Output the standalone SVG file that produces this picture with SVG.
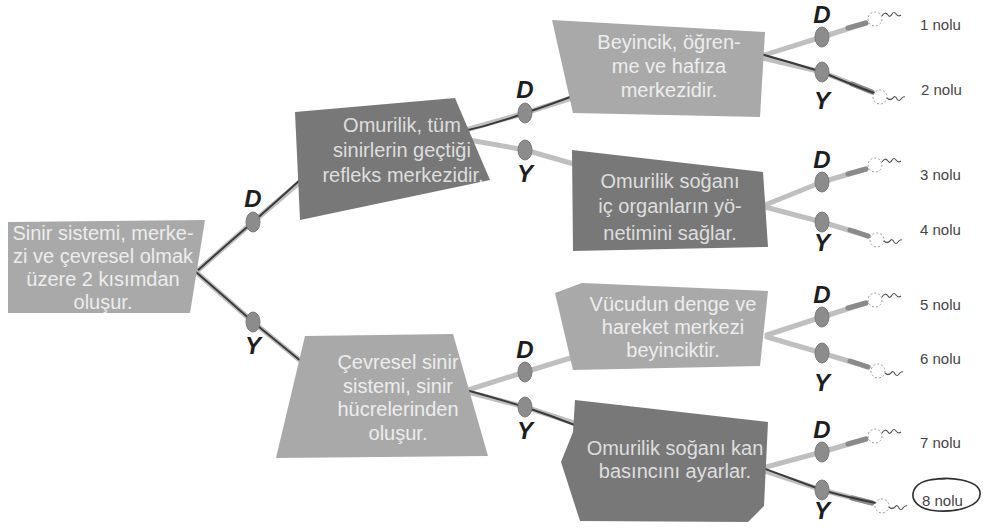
<svg xmlns="http://www.w3.org/2000/svg" width="983" height="528" viewBox="0 0 983 528">
<style>
.light{fill:#a9a9a9}
.dark{fill:#787878}
.t{font-family:"Liberation Sans",Arial,sans-serif;font-size:20px;text-anchor:middle}
.tl{fill:#ededed}
.td{fill:#dedede}
.band{fill:none;stroke:#bfbfbf;stroke-width:5;stroke-linecap:round;stroke-linejoin:round}
.tip{fill:none;stroke:#8a8a8a;stroke-width:5;stroke-linecap:round}
.pen{fill:none;stroke:#3a3a3a;stroke-width:2;stroke-linecap:round}
.dot{fill:#8c8c8c;stroke:#7a7a7a;stroke-width:1}
.dy{font-family:"Liberation Sans",Arial,sans-serif;font-size:24px;font-weight:bold;font-style:italic;fill:#1e1e1e;text-anchor:middle}
.term{fill:#fff;stroke:#9a9a9a;stroke-width:1;stroke-dasharray:2 2}
.sq{fill:none;stroke:#555;stroke-width:1.2}
.out{font-family:"Liberation Sans",Arial,sans-serif;font-size:15px;fill:#444}
</style>
<rect width="983" height="528" fill="#ffffff"/>

<g id="connectors">
  <!-- root -->
  <path class="band" d="M196,272 L253,222 L300,182"/>
  <path class="pen" d="M196,272 Q225,246 253,222 Q278,200 300,180"/>
  <path class="band" d="M196,272 L253,322 L302,362"/>
  <path class="pen" d="M196,272 Q225,297 253,322 Q280,344 302,362"/>
  <!-- node 2 -->
  <path class="band" d="M455,133 L525,113 L578,96"/>
  <path class="pen" d="M455,133 Q490,126 525,113 Q555,103 578,94"/>
  <path class="band" d="M458,138 L525,150 L574,164"/>
  <!-- node 7 -->
  <path class="band" d="M468,390 L525,372 L577,356"/>
  <path class="band" d="M468,392 L525,407 L580,425"/>
  <path class="pen" d="M466,390 Q495,398 525,407 Q552,416 580,427"/>
  <!-- node 3 -->
  <path class="band" d="M758,57 L822,37 L866,23"/>
  <path class="tip" d="M848,28 L866,23"/>
  <path class="band" d="M758,57 L822,72 L872,92"/>
  <path class="tip" d="M852,84 L872,92"/>
  <path class="pen" d="M757,53 Q790,62 822,72 Q850,84 874,93"/>
  <!-- node 4 -->
  <path class="band" d="M765,205 L822,182 L866,169"/>
  <path class="tip" d="M848,174 L866,169"/>
  <path class="band" d="M765,207 L822,222 L868,236"/>
  <path class="tip" d="M850,230 L868,236"/>
  <!-- node 5 -->
  <path class="band" d="M767,335 L822,317 L866,303"/>
  <path class="tip" d="M848,308 L866,303"/>
  <path class="band" d="M767,337 L822,353 L868,367"/>
  <path class="tip" d="M850,361 L868,367"/>
  <!-- node 6 -->
  <path class="band" d="M762,468 L822,452 L866,439"/>
  <path class="tip" d="M848,444 L866,439"/>
  <path class="band" d="M762,470 L822,490 L872,503"/>
  <path class="tip" d="M852,498 L872,503"/>
  <path class="pen" d="M752,464 Q790,478 822,490 Q850,498 876,503"/>

  <!-- dots -->
  <ellipse class="dot" cx="253" cy="222" rx="7" ry="10"/>
  <ellipse class="dot" cx="253" cy="322" rx="7" ry="10"/>
  <ellipse class="dot" cx="525" cy="113" rx="7" ry="10"/>
  <ellipse class="dot" cx="525" cy="150" rx="7" ry="10"/>
  <ellipse class="dot" cx="525" cy="372" rx="7" ry="10"/>
  <ellipse class="dot" cx="525" cy="407" rx="7" ry="10"/>
  <ellipse class="dot" cx="822" cy="37" rx="7" ry="10"/>
  <ellipse class="dot" cx="822" cy="72" rx="7" ry="10"/>
  <ellipse class="dot" cx="822" cy="182" rx="7" ry="10"/>
  <ellipse class="dot" cx="822" cy="222" rx="7" ry="10"/>
  <ellipse class="dot" cx="822" cy="317" rx="7" ry="10"/>
  <ellipse class="dot" cx="822" cy="353" rx="7" ry="10"/>
  <ellipse class="dot" cx="822" cy="452" rx="7" ry="10"/>
  <ellipse class="dot" cx="822" cy="490" rx="7" ry="10"/>

  <!-- D / Y labels -->
  <text class="dy" x="253" y="207">D</text>
  <text class="dy" x="253" y="354">Y</text>
  <text class="dy" x="525" y="98">D</text>
  <text class="dy" x="525" y="182">Y</text>
  <text class="dy" x="525" y="358">D</text>
  <text class="dy" x="525" y="439">Y</text>
  <text class="dy" x="822" y="23">D</text>
  <text class="dy" x="822" y="109">Y</text>
  <text class="dy" x="822" y="168">D</text>
  <text class="dy" x="822" y="251">Y</text>
  <text class="dy" x="822" y="303">D</text>
  <text class="dy" x="822" y="391">Y</text>
  <text class="dy" x="822" y="438">D</text>
  <text class="dy" x="822" y="519">Y</text>

  <!-- terminals -->
  <circle class="term" cx="875" cy="19" r="7"/>
  <path class="sq" d="M882,16 q3,-5 6,-1 q2,3 4,-1 q2,-3 4,0 q2,3 5,1"/>
  <circle class="term" cx="880" cy="97" r="7"/>
  <path class="sq" d="M887,98 q3,3 6,0 q2,-3 4,1 q2,3 4,0 q2,-3 4,-2"/>
  <circle class="term" cx="875" cy="165" r="7"/>
  <path class="sq" d="M882,162 q3,-5 6,-1 q2,3 4,-1 q2,-3 4,0 q2,3 5,1"/>
  <circle class="term" cx="877" cy="240" r="7"/>
  <path class="sq" d="M884,241 q3,3 6,0 q2,-3 4,1 q2,3 4,0 q2,-3 4,-2"/>
  <circle class="term" cx="875" cy="300" r="7"/>
  <path class="sq" d="M882,297 q3,-5 6,-1 q2,3 4,-1 q2,-3 4,0 q2,3 5,1"/>
  <circle class="term" cx="878" cy="371" r="7"/>
  <path class="sq" d="M885,373 q3,3 6,0 q2,-3 4,1 q2,3 4,0 q2,-3 4,-2"/>
  <circle class="term" cx="875" cy="436" r="7"/>
  <path class="sq" d="M882,433 q3,-5 6,-1 q2,3 4,-1 q2,-3 4,0 q2,3 5,1"/>
  <circle class="term" cx="882" cy="506" r="7"/>
  <path class="sq" d="M889,507 q3,3 6,0 q2,-3 4,1 q2,3 4,0 q2,-3 4,-2"/>
</g>

<g id="root">
  <polygon class="light" points="8,222 205,220 190,313 8,313"/>
  <text class="t tl" x="103" y="240">Sinir sistemi, merke-</text>
  <text class="t tl" x="103" y="263">zi ve çevresel olmak</text>
  <text class="t tl" x="103" y="286">üzere 2 kısımdan</text>
  <text class="t tl" x="103" y="309">oluşur.</text>
</g>

<g id="omurilik">
  <polygon class="dark" points="295,112 455,98 490,180 300,220"/>
  <text class="t td" x="402" y="132">Omurilik, tüm</text>
  <text class="t td" x="402" y="157">sinirlerin geçtiği</text>
  <text class="t td" x="403" y="182">refleks merkezidir.</text>
</g>

<g id="cevresel">
  <polygon class="light" points="305,336 453,334 488,456 276,458"/>
  <text class="t tl" x="398" y="369">Çevresel sinir</text>
  <text class="t tl" x="398" y="393">sistemi, sinir</text>
  <text class="t tl" x="398" y="416">hücrelerinden</text>
  <text class="t tl" x="398" y="440">oluşur.</text>
</g>

<g id="beyincik">
  <polygon class="light" points="552,20 765,32 760,117 573,113"/>
  <text class="t tl" x="669" y="49">Beyincik, öğren-</text>
  <text class="t tl" x="669" y="73">me ve hafıza</text>
  <text class="t tl" x="669" y="97">merkezidir.</text>
</g>

<g id="sogan1">
  <polygon class="dark" points="572,150 763,172 768,247 573,251"/>
  <text class="t td" x="670" y="188">Omurilik soğanı</text>
  <text class="t td" x="670" y="213">iç organların yö-</text>
  <text class="t td" x="670" y="240">netimini sağlar.</text>
</g>

<g id="denge">
  <polygon class="light" points="555,293 582,283 768,291 760,366 573,370"/>
  <text class="t tl" x="673" y="311">Vücudun denge ve</text>
  <text class="t tl" x="673" y="334">hareket merkezi</text>
  <text class="t tl" x="673" y="357">beyinciktir.</text>
</g>

<g id="sogan2">
  <polygon class="dark" points="575,400 768,422 764,506 748,522 580,521 561,462 573,432"/>
  <text class="t td" x="675" y="455">Omurilik soğanı kan</text>
  <text class="t td" x="675" y="478">basıncını ayarlar.</text>
</g>

<g id="outputs">
  <text class="out" x="920" y="30">1 nolu</text>
  <text class="out" x="921" y="95">2 nolu</text>
  <text class="out" x="920" y="180">3 nolu</text>
  <text class="out" x="920" y="235">4 nolu</text>
  <text class="out" x="920" y="310">5 nolu</text>
  <text class="out" x="920" y="364">6 nolu</text>
  <text class="out" x="920" y="448">7 nolu</text>
  <text class="out" x="922" y="506">8 nolu</text>
  <path d="M930,480 C950,476 978,480 980,492 C982,506 958,512 938,511 C918,510 910,500 914,490 C918,481 932,478 946,479" fill="none" stroke="#2e2e2e" stroke-width="1.6"/>
</g>
</svg>
